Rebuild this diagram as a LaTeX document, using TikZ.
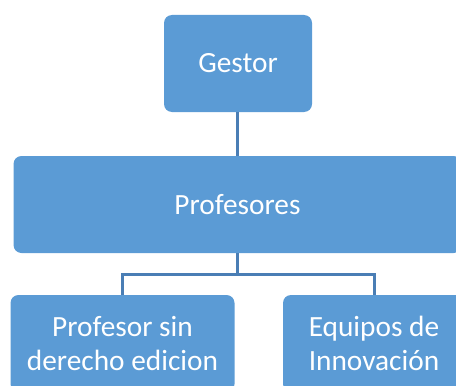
\documentclass[tikz,border=0pt]{standalone}
\usepackage{fontspec}
\setmainfont{Carlito}
\usetikzlibrary{positioning}
\definecolor{boxblue}{HTML}{5B9BD5}
\definecolor{lineblue}{HTML}{4A7EB5}

\begin{document}
\begin{tikzpicture}[%
    x=0.75pt,
    y=-0.75pt,
    orgbox/.style={%
      rectangle,
      rounded corners=6pt,
      fill=boxblue,
      text=white,
      align=center,
      font=\fontsize{22}{25}\selectfont,
      minimum height=72.75pt,
      inner sep=0pt
    },
    link/.style={%
      draw=lineblue,
      line width=2.25pt
    }
  ]
    \clip (0,0) rectangle (456,385);
    \node[orgbox, minimum width=111pt] (gestor) at (238,63.5) {Gestor};
    \node[orgbox, minimum width=336pt] (profesores) at (237.5,204.5) {Profesores};
    \node[orgbox, minimum width=168pt] (sinedicion) at (122.5,343.5) {Profesor sin\\derecho edicion};
    \node[orgbox, minimum width=136.5pt] (equipos) at (374,343.5) {Equipos de\\Innovación};

    \path[link] (gestor.south -| profesores.north) -- (profesores.north);
    \path[link] (profesores.south) -- ++(0,21.5) -| (sinedicion.north);
    \path[link] (profesores.south) -- ++(0,21.5) -| (equipos.north);
\end{tikzpicture}
\end{document}
